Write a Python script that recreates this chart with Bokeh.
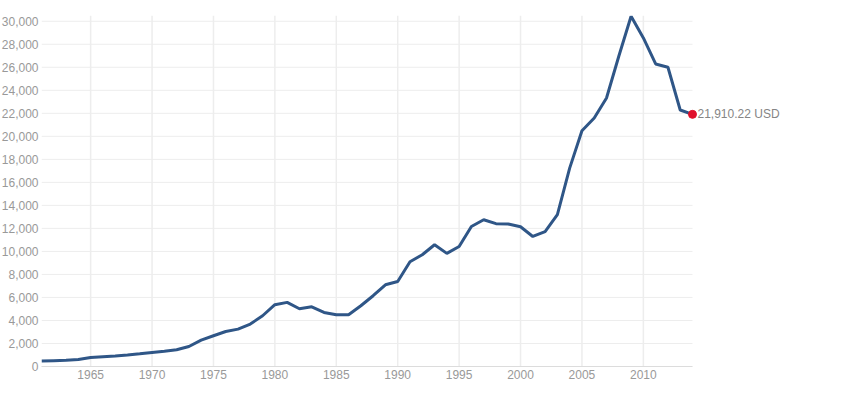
from bokeh.plotting import figure
from bokeh.models import Range1d, FixedTicker, NumeralTickFormatter
from bokeh.core.properties import value
from bokeh.embed import file_html
from bokeh.resources import INLINE

years = list(range(1961, 2015))
gdp_per_capita = [
    470, 510, 550, 600, 780, 850, 920, 1000, 1100, 1220,
    1330, 1450, 1740, 2290, 2670, 3040, 3250, 3690, 4410, 5370,
    5570, 5020, 5190, 4700, 4490, 4490, 5280, 6150, 7100, 7390,
    9100, 9710, 10580, 9830, 10430, 12170, 12750, 12410, 12380, 12140,
    11300, 11720, 13190, 17240, 20490, 21590, 23330, 26960, 30430, 28550,
    26290, 26000, 22290, 21910.22,
]
last_label = "21,910.22 USD"
x_ticks = [1965, 1970, 1975, 1980, 1985, 1990, 1995, 2000, 2005, 2010]
y_ticks = list(range(0, 30001, 2000))

FONT = "Liberation Sans"
GRID = "#ededed"

p = figure(width=800, height=390, output_backend="svg", toolbar_location=None,
           x_range=Range1d(1961, 2022.63), y_range=Range1d(0, 30500),
           min_border_left=0, min_border_right=0, min_border_top=15,
           min_border_bottom=24, margin=(0, 0, 0, -2))
p.outline_line_color = None
p.xgrid.visible = False
p.ygrid.visible = False

p.segment(x0=[years[0]] * len(y_ticks), x1=[years[-1]] * len(y_ticks),
          y0=y_ticks, y1=y_ticks, line_color=GRID, line_width=1)
p.segment(x0=x_ticks, x1=x_ticks, y0=[0] * len(x_ticks),
          y1=[30500] * len(x_ticks), line_color=GRID, line_width=1.5)

p.line(years, gdp_per_capita, line_color="#2f5687", line_width=3)
p.scatter([years[-1]], [gdp_per_capita[-1]], size=8, fill_color="#e0102a",
          line_color="#e0102a")
p.text([years[-1]], [gdp_per_capita[-1]], text=[last_label], x_offset=5,
       text_baseline="middle", text_align="left", text_font=value(FONT),
       text_font_size="12px", text_color="#858585")

xa = p.xaxis[0]
xa.ticker = FixedTicker(ticks=x_ticks)
xa.bounds = (years[0], years[-1])
xa.axis_line_color = "#dcdcdc"
xa.major_tick_line_color = None
xa.minor_tick_line_color = None
xa.major_label_standoff = -3
xa.major_label_text_font = FONT
xa.major_label_text_font_size = "12px"
xa.major_label_text_color = "#999999"

ya = p.yaxis[0]
ya.ticker = FixedTicker(ticks=y_ticks)
ya.formatter = NumeralTickFormatter(format="0,0")
ya.axis_line_color = None
ya.major_tick_line_color = None
ya.minor_tick_line_color = None
ya.major_label_standoff = -3
ya.major_label_text_font = FONT
ya.major_label_text_font_size = "12px"
ya.major_label_text_color = "#999999"

open("out.html", "w").write(file_html(p, INLINE))
